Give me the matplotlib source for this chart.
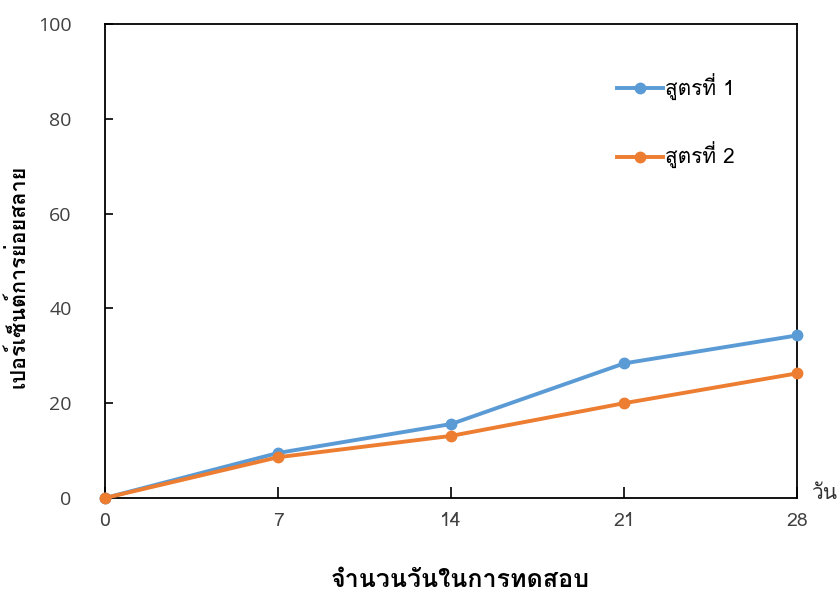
import matplotlib
matplotlib.use('Agg')
import matplotlib.pyplot as plt
from matplotlib import font_manager
from matplotlib.ft2font import FT2Font

# Data
days = [0, 7, 14, 21, 28]
formula1 = [0, 9.5, 15.6, 28.4, 34.3]
formula2 = [0, 8.6, 13.1, 20.0, 26.3]
labels = ['สูตรที่ 1', 'สูตรที่ 2']
y_ticks = [0, 20, 40, 60, 80, 100]

preferred = ['Loma', 'Garuda', 'Waree', 'Laksaman', 'Kinnari', 'Norasi', 'Sawasdee', 'Umpush', 'Purisa']


# find an installed proportional font that has Thai glyphs
def thai_font():
    found = []
    for path in font_manager.findSystemFonts():
        try:
            if 0x0E2A in FT2Font(path).get_charmap():
                found.append(font_manager.FontProperties(fname=path).get_name())
        except Exception:
            pass
    for p in preferred:
        if p in found:
            return p
    for f in found:
        if not any(k in f for k in ('Mono', 'Typo', 'Typist', 'Type')):
            return f
    return found[0] if found else None


tf = thai_font()
fams = [tf, 'DejaVu Sans'] if tf else ['DejaVu Sans']
plt.rcParams['font.family'] = fams

fig = plt.figure(figsize=(8.4, 6), dpi=100)
ax = fig.add_axes([0.125, 0.17, 0.824, 0.79])

ax.plot(days, formula1, color='#5B9BD5', lw=2.8, marker='o', ms=7.5, label=labels[0], clip_on=False, zorder=3)
ax.plot(days, formula2, color='#ED7D31', lw=2.8, marker='o', ms=7.5, label=labels[1], clip_on=False, zorder=3)

ax.set_xlim(0, 28)
ax.set_ylim(0, 100)
ax.set_xticks(days)
ax.set_yticks(y_ticks)
ax.tick_params(axis='x', direction='in', length=8, width=1.2, pad=10, labelsize=14, labelcolor='#404040')
ax.tick_params(axis='y', direction='in', length=6, width=1.2, pad=24, labelsize=14, labelcolor='#404040')
for t in ax.get_yticklabels():
    t.set_family('Open Sans')
    t.set_fontsize(14)
for s in ax.spines.values():
    s.set_linewidth(1.3)

ax.set_xlabel('จำนวนวันในการทดสอบ', fontsize=18, fontweight='bold')
ax.set_ylabel('เปอร์เซ็นต์การย่อยสลาย', fontsize=15.5, fontweight='bold')
ax.xaxis.set_label_coords(0.513, -0.15)
ax.yaxis.set_label_coords(-0.111, 0.468)
ax.text(1.02, 0.01, 'วัน', transform=ax.transAxes, fontsize=15, color='#333333', va='center', ha='left')

ax.legend(loc='upper left', bbox_to_anchor=(0.713, 0.935), frameon=False, fontsize=15,
          handlelength=2.2, labelspacing=2.0, handletextpad=0.1)

plt.savefig('out.png', dpi=100)
